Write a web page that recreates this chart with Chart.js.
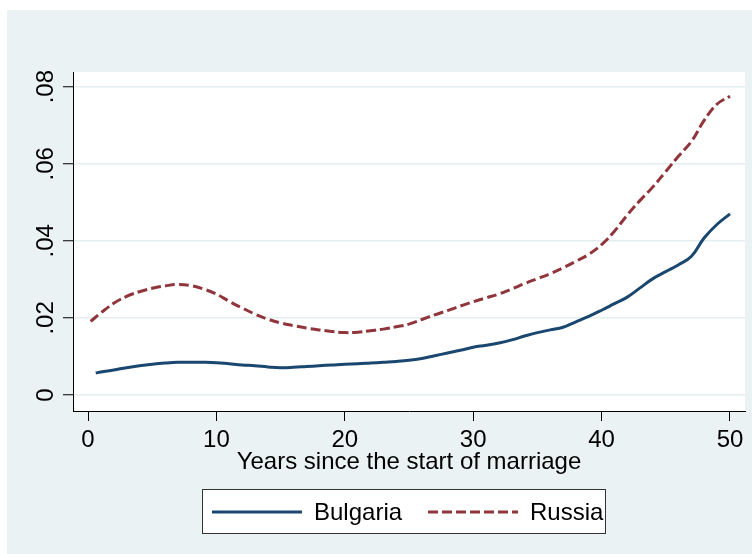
<!DOCTYPE html>
<html lang="en">
<head>
<meta charset="UTF-8" />
<title>Years since the start of marriage</title>
<script src="https://cdn.jsdelivr.net/npm/chart.js"></script>
<style>
  html, body { margin: 0; padding: 0; background: #fff; }
  #wrap { width: 752px; height: 554px; }
</style>
</head>
<body>
<div id="wrap"><canvas id="grafico" width="752" height="554"></canvas></div>
<script>
const seriesNames = ["Bulgaria", "Russia"];
const xTitle = "Years since the start of marriage";

const bulgariaYears = [0.6, 1, 2, 3, 4, 5, 6, 7, 8, 9, 10, 11, 12, 13, 14, 15, 16, 17, 18, 19, 20,
  21, 22, 23, 24, 25, 26, 27, 28, 29, 30, 31, 32, 33, 34, 35, 36, 37, 38, 39, 40,
  41, 42, 43, 44, 45, 46, 47, 48, 49, 50];
const bulgaria = [0.0057, 0.0060, 0.0065, 0.0071, 0.0076, 0.0080, 0.0083, 0.0085, 0.0085, 0.0085, 0.0084,
  0.0081, 0.0078, 0.0076, 0.0073, 0.0071, 0.0072, 0.0074, 0.0076, 0.0078, 0.0080,
  0.0081, 0.0083, 0.0085, 0.0087, 0.0090, 0.0095, 0.0102, 0.0109, 0.0116, 0.0124,
  0.0129, 0.0135, 0.0143, 0.0153, 0.0162, 0.0169, 0.0176, 0.0190, 0.0204, 0.0220,
  0.0237, 0.0254, 0.0278, 0.0302, 0.0320, 0.0338, 0.0360, 0.0408, 0.0443, 0.0470];

const russiaYears = [0.2, 1, 2, 3, 4, 5, 6, 7, 8, 9, 10, 11, 12, 13, 14, 15, 16, 17, 18, 19, 20,
  21, 22, 23, 24, 25, 26, 27, 28, 29, 30, 31, 32, 33, 34, 35, 36, 37, 38, 39, 40,
  41, 42, 43, 44, 45, 46, 47, 48, 49, 50];
const russia = [0.0191, 0.0213, 0.0238, 0.0256, 0.0268, 0.0277, 0.0283, 0.0287, 0.0284, 0.0275, 0.0262,
  0.0243, 0.0226, 0.0210, 0.0197, 0.0187, 0.0180, 0.0174, 0.0169, 0.0165, 0.0162,
  0.0163, 0.0167, 0.0171, 0.0177, 0.0184, 0.0196, 0.0208, 0.0219, 0.0231, 0.0242,
  0.0252, 0.0262, 0.0275, 0.0289, 0.0302, 0.0315, 0.0330, 0.0347, 0.0365, 0.0390,
  0.0425, 0.0467, 0.0505, 0.0540, 0.0580, 0.0620, 0.0658, 0.0713, 0.0755, 0.0775];

const xTicks = [0, 10, 20, 30, 40, 50];
const yTicks = [0, 0.02, 0.04, 0.06, 0.08];
const yTickLabels = ["0", ".02", ".04", ".06", ".08"];

const FONTE = '"Liberation Sans", Arial, sans-serif';
Chart.defaults.font.family = FONTE;
Chart.defaults.font.size = 24;
Chart.defaults.color = "#000";

// fundo estilo Stata: moldura azul-acinzentada e area do grafico branca
const fundo = {
  id: "fundo",
  beforeDraw(chart) {
    const { ctx, chartArea: a } = chart;
    ctx.save();
    ctx.fillStyle = "#fff";
    ctx.fillRect(0, 0, chart.width, chart.height);
    ctx.fillStyle = "#eaf2f3";
    ctx.fillRect(7, 10, chart.width - 7, chart.height - 10);
    ctx.fillStyle = "#fff";
    ctx.fillRect(a.left, a.top, a.right - a.left, a.bottom - a.top);
    ctx.restore();
  },
};

// legenda com caixa, abaixo do titulo do eixo x
const legenda = {
  id: "legenda",
  afterDraw(chart) {
    const ctx = chart.ctx;
    const box = { x: 202, y: 489, w: 403, h: 44 };
    const itens = [{ x: 212, tx: 314 }, { x: 428, tx: 530 }];
    const cy = box.y + 23;
    ctx.save();
    ctx.fillStyle = "#fff";
    ctx.fillRect(box.x, box.y, box.w, box.h);
    ctx.strokeStyle = "#333";
    ctx.lineWidth = 1;
    ctx.strokeRect(box.x + 0.5, box.y + 0.5, box.w, box.h);
    chart.data.datasets.forEach((ds, i) => {
      ctx.strokeStyle = ds.borderColor;
      ctx.lineWidth = ds.borderWidth;
      ctx.setLineDash(ds.borderDash || []);
      ctx.beginPath();
      ctx.moveTo(itens[i].x, cy);
      ctx.lineTo(itens[i].x + 90, cy);
      ctx.stroke();
      ctx.setLineDash([]);
      ctx.fillStyle = "#000";
      ctx.font = "24px " + FONTE;
      ctx.textBaseline = "middle";
      ctx.fillText(ds.label, itens[i].tx, cy + 1);
    });
    ctx.restore();
  },
};

const ctx = document.getElementById("grafico").getContext("2d");
new Chart(ctx, {
  type: "line",
  data: {
    datasets: [
      {
        label: seriesNames[0],
        data: bulgariaYears.map((x, i) => ({ x, y: bulgaria[i] })),
        borderColor: "#1a476f",
        borderWidth: 3,
        pointRadius: 0,
        tension: 0.4,
        fill: false,
      },
      {
        label: seriesNames[1],
        data: russiaYears.map((x, i) => ({ x, y: russia[i] })),
        borderColor: "#90353b",
        borderWidth: 3,
        borderDash: [10, 4],
        pointRadius: 0,
        tension: 0.4,
        fill: false,
      },
    ],
  },
  options: {
    responsive: false,
    animation: false,
    layout: { padding: { top: 72, right: 7, left: 0, bottom: 0 } },
    plugins: { legend: { display: false }, tooltip: { enabled: false } },
    scales: {
      x: {
        type: "linear",
        min: -1.17,
        max: 51.17,
        afterBuildTicks: (s) => { s.ticks = xTicks.map((v) => ({ value: v })); },
        afterFit: (s) => { s.height = 143; },
        ticks: { padding: 5, maxRotation: 0, color: "#000" },
        grid: { drawOnChartArea: false, drawTicks: true, tickLength: 10, tickColor: "#000", tickWidth: 1 },
        border: { color: "#000", width: 1 },
        title: { display: true, text: xTitle, color: "#000", padding: { top: 0, bottom: 77 } },
      },
      y: {
        min: -0.00414,
        max: 0.0838,
        afterBuildTicks: (s) => { s.ticks = yTicks.map((v) => ({ value: v })); },
        afterFit: (s) => { s.width = 73; },
        ticks: {
          minRotation: 90,
          maxRotation: 90,
          crossAlign: "center",
          padding: 0,
          color: "#000",
          callback: (v) => yTickLabels[yTicks.findIndex((t) => Math.abs(t - v) < 1e-9)],
        },
        grid: { color: "#e4edf0", lineWidth: 1.5, drawTicks: true, tickLength: 10, tickColor: "#000", tickWidth: 1 },
        border: { color: "#000", width: 1 },
      },
    },
  },
  plugins: [fundo, legenda],
});
</script>
</body>
</html>
